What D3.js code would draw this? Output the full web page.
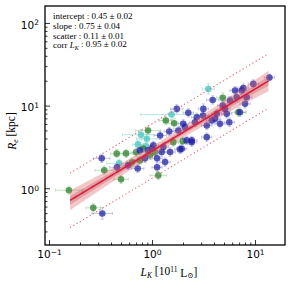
<!DOCTYPE html>
<meta charset="utf-8">
<title>Re vs LK</title>
<style>
  body { margin: 0; background: #fff; }
  .tick text { font-family: "DejaVu Sans", sans-serif; font-size: 10.5px; fill: #000; }
  .serif { font-family: "Liberation Serif", "DejaVu Serif", serif; }
</style>
<body>
<script src="https://cdn.jsdelivr.net/npm/d3@7"></script>
<script>

var width = 291,
    height = 283;

// fit parameters (from the text box)
var fitLabels = ["intercept", "slope", "scatter", "corr"];
var fitValues = [0.45, 0.75, 0.11, 0.95];
var fitErrors = [0.02, 0.04, 0.01, 0.02];
var fitRange = [0.16, 13.5];   // L_K extent of the fit line

// points: [L_K, R_e, xerr (dex), yerr (dex)]
var bluePts = [
  [0.325, 2.30, 0.08, 0.05], [0.457, 1.79, 0.07, 0.05], [0.726, 1.73, 0.06, 0.05],
  [0.329, 0.495, 0.10, 0.07], [1.20, 4.35, 0.06, 0.05], [1.47, 4.86, 0.05, 0.05],
  [1.34, 2.07, 0.05, 0.05], [1.50, 2.74, 0.05, 0.05], [1.74, 9.12, 0.06, 0.05],
  [2.25, 8.17, 0.05, 0.05], [3.15, 9.12, 0.05, 0.06], [3.88, 11.7, 0.06, 0.05],
  [4.86, 10.0, 0.05, 0.05], [3.13, 7.58, 0.05, 0.05], [2.72, 7.23, 0.05, 0.05],
  [4.09, 6.92, 0.05, 0.05], [1.80, 5.00, 0.05, 0.05], [2.09, 5.48, 0.05, 0.05],
  [2.61, 6.29, 0.05, 0.05], [3.40, 5.74, 0.05, 0.05], [4.57, 6.02, 0.05, 0.05],
  [5.31, 7.94, 0.05, 0.05], [2.43, 3.79, 0.05, 0.05], [3.40, 4.15, 0.05, 0.05],
  [1.94, 3.01, 0.05, 0.05], [13.8, 21.9, 0.05, 0.04], [9.62, 18.3, 0.05, 0.05],
  [7.70, 16.3, 0.05, 0.05], [6.40, 15.2, 0.05, 0.05], [7.43, 15.2, 0.05, 0.05],
  [6.64, 12.6, 0.05, 0.05], [8.30, 12.6, 0.05, 0.05], [5.72, 11.5, 0.05, 0.05],
  [5.11, 9.12, 0.05, 0.05], [8.00, 10.5, 0.05, 0.05], [7.15, 8.30, 0.05, 0.05],
  [4.25, 7.94, 0.05, 0.05], [3.80, 6.59, 0.05, 0.05], [2.01, 6.02, 0.05, 0.05],
  [5.63, 6.29, 0.05, 0.05], [1.87, 2.95, 0.05, 0.05], [2.43, 3.61, 0.05, 0.05],
  [1.24, 2.74, 0.05, 0.05], [1.03, 3.30, 0.05, 0.05], [1.29, 3.15, 0.05, 0.05],
  [2.17, 3.79, 0.05, 0.05], [0.914, 2.87, 0.05, 0.05], [0.764, 2.87, 0.05, 0.05],
  [0.855, 2.30, 0.05, 0.05], [1.12, 2.30, 0.05, 0.05], [1.00, 3.03, 0.05, 0.05],
  [0.585, 1.89, 0.05, 0.05], [1.12, 1.79, 0.05, 0.05]
];

var greenPts = [
  [0.156, 0.946, 0.13, 0.05], [0.344, 1.65, 0.09, 0.05], [0.454, 2.62, 0.06, 0.05],
  [0.560, 2.64, 0.06, 0.05], [0.500, 1.28, 0.07, 0.05], [0.269, 0.579, 0.07, 0.05],
  [0.914, 5.00, 0.12, 0.05], [1.36, 6.59, 0.06, 0.05], [1.15, 1.43, 0.08, 0.05],
  [4.86, 12.4, 0.06, 0.06], [1.64, 6.12, 0.06, 0.06], [1.99, 3.71, 0.05, 0.05],
  [1.61, 3.61, 0.05, 0.05], [6.88, 8.30, 0.08, 0.05], [0.700, 2.72, 0.05, 0.05],
  [0.818, 3.03, 0.06, 0.05], [0.956, 2.50, 0.05, 0.05], [1.07, 2.72, 0.05, 0.05],
  [0.764, 2.17, 0.05, 0.05], [0.640, 2.06, 0.05, 0.05]
];

var tealPts = [
  [0.479, 2.00, 0.12, 0.05], [0.782, 4.44, 0.18, 0.06], [0.889, 3.97, 0.10, 0.05],
  [1.55, 7.80, 0.30, 0.06], [3.52, 15.9, 0.06, 0.06], [0.874, 3.21, 0.05, 0.05],
  [0.731, 3.39, 0.05, 0.05]
];

var xTicks = [0.1, 1, 10];
var yTicks = [1, 10, 100];

var margin = {left: 45, right: 6, top: 6, bottom: 38};

var x = d3.scaleLog()
  .domain([Math.pow(10, -1.039), Math.pow(10, 1.291)])
  .range([margin.left, width - margin.right]);

var y = d3.scaleLog()
  .domain([Math.pow(10, -0.687), Math.pow(10, 2.205)])
  .range([height - margin.bottom, margin.top]);

var svg = d3.select("body").append("svg")
  .attr("width", width)
  .attr("height", height);

var plot = svg.append("g");

// error bars + points
function drawGroup(pts, fill, errColor) {
  var g = plot.append("g");
  pts.forEach(function(d) {
    var cx = x(d[0]), cy = y(d[1]);
    var x0 = x(d[0] / Math.pow(10, d[2])), x1 = x(d[0] * Math.pow(10, d[2]));
    var y0 = y(d[1] / Math.pow(10, d[3])), y1 = y(d[1] * Math.pow(10, d[3]));
    var e = g.append("g").attr("stroke", errColor).attr("stroke-width", 0.8).attr("opacity", 0.75);
    e.append("line").attr("x1", x0).attr("x2", x1).attr("y1", cy).attr("y2", cy);
    e.append("line").attr("x1", cx).attr("x2", cx).attr("y1", y0).attr("y2", y1);
    [x0, x1].forEach(function(v) {
      e.append("line").attr("x1", v).attr("x2", v).attr("y1", cy - 1.5).attr("y2", cy + 1.5);
    });
    [y0, y1].forEach(function(v) {
      e.append("line").attr("x1", cx - 1.5).attr("x2", cx + 1.5).attr("y1", v).attr("y2", v);
    });
  });
  g.selectAll("circle").data(pts).enter().append("circle")
    .attr("cx", function(d) { return x(d[0]); })
    .attr("cy", function(d) { return y(d[1]); })
    .attr("r", 3.3)
    .attr("fill", fill)
    .attr("fill-opacity", 0.72);
}

drawGroup(tealPts, "#3cc4bd", "#8fd8d4");
drawGroup(greenPts, "#217a21", "#9ccf9c");
drawGroup(bluePts, "#1c1ca0", "#9d9de0");

// fit line, confidence bands and scatter lines
var a = fitValues[0], b = fitValues[1], s = fitValues[2];
var lx = d3.range(101).map(function(i) {
  var l0 = Math.log10(fitRange[0]), l1 = Math.log10(fitRange[1]);
  return l0 + (l1 - l0) * i / 100;
});

function bandArea(k) {
  return d3.area()
    .x(function(l) { return x(Math.pow(10, l)); })
    .y0(function(l) {
      var d = l - 0.15, w = k * Math.sqrt(0.06 * 0.06 + 0.11 * 0.11 * d * d);
      return y(Math.pow(10, a + b * l - w));
    })
    .y1(function(l) {
      var d = l - 0.15, w = k * Math.sqrt(0.06 * 0.06 + 0.11 * 0.11 * d * d);
      return y(Math.pow(10, a + b * l + w));
    });
}

plot.append("path").datum(lx).attr("d", bandArea(1))
  .attr("fill", "#d9605f").attr("fill-opacity", 0.35);
plot.append("path").datum(lx).attr("d", bandArea(0.45))
  .attr("fill", "#b84050").attr("fill-opacity", 0.3);

function fitLine(off) {
  return d3.line()
    .x(function(l) { return x(Math.pow(10, l)); })
    .y(function(l) { return y(Math.pow(10, a + b * l + off)); });
}

plot.append("path").datum(lx).attr("d", fitLine(0))
  .attr("fill", "none").attr("stroke", "#dc1e3c").attr("stroke-width", 1.6);

[3 * s, -3 * s].forEach(function(off) {
  plot.append("path").datum(lx).attr("d", fitLine(off))
    .attr("fill", "none").attr("stroke", "#e2707e").attr("stroke-width", 1.2)
    .attr("stroke-dasharray", "1.2,2.6");
});

// axes
function minorTicks(dom) {
  var out = [];
  for (var p = -2; p <= 3; p++) {
    for (var m = 2; m <= 9; m++) {
      var v = m * Math.pow(10, p);
      if (v > dom[0] && v < dom[1]) out.push(v);
    }
  }
  return out;
}

function sup(sel, exps) {
  sel.each(function(d, i) {
    var t = d3.select(this).text(null);
    t.append("tspan").text("10");
    t.append("tspan").attr("dy", "-0.45em").attr("font-size", "7.5px").text(exps[i]);
  });
}

var xAxisG = svg.append("g").attr("transform", "translate(0," + (height - margin.bottom) + ")");
xAxisG.call(d3.axisBottom(x).tickValues(xTicks).tickSizeInner(-5).tickSizeOuter(0).tickPadding(6));
xAxisG.selectAll(".tick text").call(sup, ["\u22121", "0", "1"]);
svg.append("g").attr("transform", "translate(0," + (height - margin.bottom) + ")")
  .call(d3.axisBottom(x).tickValues(minorTicks(x.domain())).tickSizeInner(-2.5).tickSizeOuter(0).tickFormat(""));

var yAxisG = svg.append("g").attr("transform", "translate(" + margin.left + ",0)");
yAxisG.call(d3.axisLeft(y).tickValues(yTicks).tickSizeInner(-5).tickSizeOuter(0).tickPadding(6));
yAxisG.selectAll(".tick text").call(sup, ["0", "1", "2"]).attr("dy", "0.5em");
svg.append("g").attr("transform", "translate(" + margin.left + ",0)")
  .call(d3.axisLeft(y).tickValues(minorTicks(y.domain())).tickSizeInner(-2.5).tickSizeOuter(0).tickFormat(""));

svg.selectAll(".domain").remove();
svg.selectAll(".tick line").attr("stroke", "#000").attr("stroke-width", 0.8);

// frame
svg.append("rect")
  .attr("x", margin.left).attr("y", margin.top)
  .attr("width", width - margin.left - margin.right)
  .attr("height", height - margin.top - margin.bottom)
  .attr("fill", "none").attr("stroke", "#000").attr("stroke-width", 1.3);

// text box
var box = svg.append("g").attr("class", "serif").attr("font-size", "9px");
fitLabels.forEach(function(lab, i) {
  var t = box.append("text").attr("x", 53).attr("y", 19 + i * 9.8);
  if (lab == "corr") {
    t.append("tspan").text("corr ");
    t.append("tspan").attr("font-style", "italic").text("L");
    t.append("tspan").attr("font-style", "italic").attr("font-size", "6px").attr("dy", "0.25em").text("K");
    t.append("tspan").attr("dy", "-0.3em").text(" : " + fitValues[i].toFixed(2) + " \u00b1 " + fitErrors[i].toFixed(2));
  } else {
    t.text(lab + " : " + fitValues[i].toFixed(2) + " \u00b1 " + fitErrors[i].toFixed(2));
  }
});

// axis labels
var xl = svg.append("text").attr("class", "serif").attr("font-size", "11.5px")
  .attr("x", 169).attr("y", 276).attr("text-anchor", "middle");
xl.append("tspan").attr("font-style", "italic").text("L");
xl.append("tspan").attr("font-style", "italic").attr("font-size", "7.5px").attr("dy", "0.25em").text("K");
xl.append("tspan").attr("dy", "-0.25em").text("  [10");
xl.append("tspan").attr("font-size", "7.5px").attr("dy", "-0.4em").text("11");
xl.append("tspan").attr("dy", "0.4em").text(" L");
xl.append("tspan").attr("font-size", "7.5px").attr("dy", "0.25em").text("\u2299");
xl.append("tspan").attr("dy", "-0.25em").text("]");

var yl = svg.append("text").attr("class", "serif").attr("font-size", "11.5px")
  .attr("transform", "translate(16,131) rotate(-90)").attr("text-anchor", "middle");
yl.append("tspan").attr("font-style", "italic").text("R");
yl.append("tspan").attr("font-style", "italic").attr("font-size", "7.5px").attr("dy", "0.25em").text("e");
yl.append("tspan").attr("dy", "-0.25em").text("  [kpc]");

</script>
</body>
